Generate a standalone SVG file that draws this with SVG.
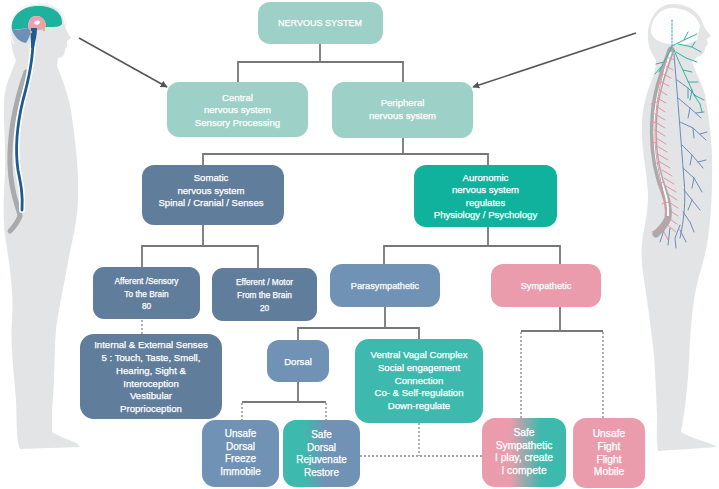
<svg xmlns="http://www.w3.org/2000/svg" width="719" height="489" viewBox="0 0 719 489">
<defs>
<style>
.t{font-family:"Liberation Sans",Arial,sans-serif;fill:#fff;stroke:#fff;stroke-width:0.25;text-anchor:middle;font-size:9.6px}
.c{fill:none;stroke:#777;stroke-width:1.8}
.d{fill:none;stroke:#888;stroke-width:1.3;stroke-dasharray:2 2}
.lt{fill:#9dd0c6}
.sl{fill:#617d9c}
.au{fill:#10b29e}
.pa{fill:#7092b5}
.sy{fill:#eb9cac}
.ve{fill:#3db9ad}
.sil{fill:#e3e4e5}
.pk{fill:none;stroke:#eb8fa3;stroke-width:1;stroke-linecap:round}
.bl{fill:none;stroke:#6b8cb8;stroke-width:1;stroke-linecap:round}
.tl{fill:none;stroke:#2fb3a3;stroke-width:1;stroke-linecap:round}
</style>
<linearGradient id="gSD" x1="0" x2="1" y1="0" y2="0">
<stop offset="0" stop-color="#3db9ad"/><stop offset="0.28" stop-color="#3db9ad"/><stop offset="0.55" stop-color="#7092b5"/><stop offset="1" stop-color="#7092b5"/>
</linearGradient>
<linearGradient id="gSS" x1="0" x2="1" y1="0" y2="0">
<stop offset="0" stop-color="#eb9cac"/><stop offset="0.33" stop-color="#eb9cac"/><stop offset="0.7" stop-color="#3db9ad"/><stop offset="1" stop-color="#3db9ad"/>
</linearGradient>
<marker id="ah" viewBox="0 0 10 10" refX="9" refY="5" markerWidth="7" markerHeight="7" orient="auto" markerUnits="userSpaceOnUse">
<path d="M0,0 L10,5 L0,10 Z" fill="#555"/>
</marker>
</defs>
<rect width="719" height="489" fill="#fff"/>

<!-- Left figure -->
<g id="left-figure">
<path class="sil" d="M38,4 C52,3 62,10 64,22 L66,30 L71,38 L67,41 L67,46 L65,50 C65,55 62,58 58,58 L57,66 C63,80 68,95 71,110 C75,140 79,165 78,200 C77,225 72,240 68,262 C63,290 58,312 56,330 C54,352 55,382 52,410 L52,432 C60,438 78,441 80,447 L20,449 C16,440 17,420 16,400 C14,372 10,345 12,320 C14,292 9,262 6,242 C2,222 4,192 5,170 C6,140 2,112 5,92 C8,77 14,68 16,60 C12,52 10,40 12,28 C15,12 26,4 38,4 Z"/>
<path d="M14,44 C8,34 9,14 24,7 C36,2 52,3 60,11 C64,15 66,20 66,26" fill="none" stroke="#f4f4f5" stroke-width="1.5"/>
<path d="M26,72 C16,100 9,130 10,165 C11,195 18,205 20,216 C17,224 13,228 10,231" fill="none" stroke="#a9aaac" stroke-width="5" stroke-linecap="round"/>
<path d="M33,40 C33,55 30,75 23,100 C17,125 15,150 18,170 C21,185 23,195 22,210" fill="none" stroke="#fff" stroke-width="6" stroke-linecap="round"/>
<path d="M33,40 C33,55 30,75 23,100 C17,125 15,150 18,170 C21,185 23,195 22,210" fill="none" stroke="#1d5b93" stroke-width="2.8" stroke-linecap="round"/>
<path d="M12,30 C10,16 22,6 38,6 C53,6 63,13 62,24 C60,27 55,27 50,27 L46,27 C46,20 42,16 36,16 C31,16 28,20 28,28 L20,29 C17,29 14,30 12,30 Z" fill="#1db29e"/>
<path d="M28,28 C28,20 31,16 37,16 C42,16 46,20 46,27 C44,30 40,30 36,30 C33,30 30,30 28,28 Z" fill="#ef9fb2"/>
<path d="M34,23 C35,20 39,20 40,22 C39,25 36,26 34,23 Z" fill="#fff"/>
<path d="M12,30 C16,30 22,29 28,28 L31,31 C30,36 28,40 26,43 C20,42 15,38 12,30 Z" fill="#6d8fb9"/>
<path d="M31,28 L37,28 C37,36 35,42 34,48 L31,48 C31,40 30,34 31,28 Z" fill="#1d5b93"/>
<circle cx="31" cy="32" r="1.2" fill="#f5b04a"/>
<circle cx="43" cy="25" r="1.2" fill="#f5b04a"/>
<circle cx="44" cy="30" r="1.2" fill="#f5b04a"/>
</g>

<!-- Right figure -->
<g id="right-figure">
<path class="sil" d="M672,4 C688,4 700,12 703,24 L706,30 L711,36 L707,39 L708,44 L705,48 C705,53 701,56 697,57 L692,62 C698,78 705,90 706,100 C710,125 713,150 712,175 C712,205 710,225 707,245 C703,265 697,280 694,300 C691,320 690,340 689,360 C688,385 685,410 681,432 C695,440 712,443 717,447 L658,451 C656,440 657,428 657,415 C656,390 655,370 654,355 C651,330 648,305 644,280 C641,260 641,250 643,235 C646,220 648,210 648,195 C647,170 641,150 642,125 C642,110 646,95 650,85 C654,75 656,68 656,60 C650,52 647,42 648,32 C650,15 660,4 672,4 Z"/>
<path d="M672,8 C686,8 697,15 700,26 L697,40 C690,44 680,46 668,44 C658,42 651,38 651,30 C652,17 661,8 672,8 Z" fill="#fff"/>
<path d="M671,50 C664,70 656,90 654,115 C652,140 654,160 660,180 C665,195 670,205 668,218 C665,226 660,230 656,234" fill="none" stroke="#a9aaac" stroke-width="7" stroke-linecap="round"/>
<path d="M671,52 C664,72 657,92 655,115 C653,140 655,160 661,180 C666,195 669,205 668,216" fill="none" stroke="#fff" stroke-width="2"/>
<path class="tl" d="M672,20 L672,46" stroke-dasharray="2 1.5"/>
<path class="tl" d="M672,46 L684,40 L697,34 M684,40 L688,32 M678,44 L692,47 L701,52 M692,47 L695,42 M672,46 C668,55 664,62 659,72 M664,62 L656,64 M661,67 L655,74 M674,50 C680,65 688,80 694,95 L700,104 M683,70 L692,72 M688,82 L698,82 M692,90 L690,100 M694,95 L704,100 M700,104 L702,112 M676,52 L686,58 L697,62"/>
<path class="bl" d="M674,54 C677,90 681,140 684,180 C686,200 684,220 680,238 M677,80 L688,88 L696,96 M688,88 L688,98 M678,98 L690,108 L701,118 M690,108 L688,118 M696,113 L704,112 M680,122 L693,128 L706,140 M693,128 L694,138 M700,134 L707,132 M682,145 L692,155 L703,168 M692,155 L690,165 M698,162 L706,160 M683,168 L694,178 L702,192 M694,178 L692,188 M684,190 L692,200 L700,210 M692,200 L688,210 M683,212 L690,222 L694,232 M680,225 L675,238 L676,248 M680,230 L686,242 M670,228 L668,245 M664,230 L660,242"/>
<path class="pk" d="M669,58 L675,60 M666,66 L673,70 M663,74 L671,78 M661,82 L669,86 M659,90 L667,95 M657,98 L666,103 M656,106 L665,112 M655,114 L665,120 M655,122 L665,128 M655,130 L665,136 M656,138 L666,144 M657,146 L667,152 M658,154 L668,160 M660,162 L670,168 M662,170 L672,176 M664,178 L674,184 M666,186 L676,192 M668,194 L677,200 M669,202 L678,208 M669,210 L678,216 M668,218 L677,224 M666,224 L676,232 M662,228 L668,240 M667,62 L662,64 M661,82 L656,84 M657,102 L651,104 M656,122 L650,124 M657,142 L651,144 M660,162 L654,164 M664,182 L658,184 M668,202 L662,204 M664,226 L652,232 M666,60 C660,85 654,110 655,140 C656,170 666,195 667,222"/>
</g>

<!-- Connectors -->
<g id="connectors">
<path class="c" d="M320,44 V62 M238,82 V62 H403 V82"/>
<path class="c" d="M403,138 V154 M203,165 V154 H488 V165"/>
<path class="c" d="M203,225 V246 M142,267 V246 H258 V268"/>
<path class="c" d="M488,227 V246 M384,264 V246 H560 V264"/>
<path class="c" d="M385,307 V328 M298,340 V328 H419 V339"/>
<path class="c" d="M298,382 V402 M242,402 H326"/>
<path class="c" d="M560,307 V331 M521,331 H603"/>
<path class="d" d="M142,320 V334"/>
<path class="d" d="M242,403 V420 M326,403 V420"/>
<path class="d" d="M521,332 V418 M603,332 V418"/>
<path class="d" d="M419,423 V456 M360,456 H482"/>
<line x1="79" y1="38" x2="167" y2="87" stroke="#555" stroke-width="1.5" marker-end="url(#ah)"/>
<line x1="636" y1="33" x2="473" y2="87" stroke="#555" stroke-width="1.5" marker-end="url(#ah)"/>
</g>

<!-- Nodes -->
<g id="n-nervous-system">
<rect class="lt" x="258" y="2" width="125" height="42" rx="12"/>
<text class="t" x="320" y="26" style="font-size:9px">NERVOUS SYSTEM</text>
</g>
<g id="n-central">
<rect class="lt" x="167" y="82" width="141" height="55" rx="12"/>
<text class="t" x="237.5" y="100.5">Central</text>
<text class="t" x="237.5" y="113">nervous system</text>
<text class="t" x="237.5" y="125.5">Sensory Processing</text>
</g>
<g id="n-peripheral">
<rect class="lt" x="332" y="82" width="141" height="56" rx="12"/>
<text class="t" x="402.5" y="106">Peripheral</text>
<text class="t" x="402.5" y="118.5">nervous system</text>
</g>
<g id="n-somatic">
<rect class="sl" x="142" y="165" width="142" height="60" rx="12"/>
<text class="t" x="211" y="181">Somatic</text>
<text class="t" x="211" y="194">nervous system</text>
<text class="t" x="211" y="206">Spinal / Cranial / Senses</text>
</g>
<g id="n-autonomic">
<rect class="au" x="414" y="165" width="143" height="62" rx="12"/>
<text class="t" x="485.5" y="180.5">Auronomic</text>
<text class="t" x="485.5" y="193">nervous system</text>
<text class="t" x="485.5" y="205.5">regulates</text>
<text class="t" x="485.5" y="218">Physiology / Psychology</text>
</g>
<g id="n-afferent">
<rect class="sl" x="93" y="267" width="107" height="52" rx="11"/>
<text class="t" x="146.5" y="284" style="font-size:8.3px">Afferent /Sensory</text>
<text class="t" x="146.5" y="297" style="font-size:8.3px">To the Brain</text>
<text class="t" x="146.5" y="309" style="font-size:8.3px">80</text>
</g>
<g id="n-efferent">
<rect class="sl" x="212" y="268" width="105" height="53" rx="11"/>
<text class="t" x="264.5" y="285" style="font-size:8.3px">Efferent / Motor</text>
<text class="t" x="264.5" y="298" style="font-size:8.3px">From the Brain</text>
<text class="t" x="264.5" y="311" style="font-size:8.3px">20</text>
</g>
<g id="n-parasympathetic">
<rect class="pa" x="330" y="264" width="110" height="43" rx="12"/>
<text class="t" x="385" y="289" style="font-size:9.2px">Parasympathetic</text>
</g>
<g id="n-sympathetic">
<rect class="sy" x="491" y="264" width="110" height="43" rx="12"/>
<text class="t" x="546" y="288.5" style="font-size:9.2px">Sympathetic</text>
</g>
<g id="n-senses">
<rect class="sl" x="80" y="334" width="142" height="85" rx="14"/>
<text class="t" x="151" y="348">Internal &amp; External Senses</text>
<text class="t" x="151" y="360.5">5 : Touch, Taste, Smell,</text>
<text class="t" x="151" y="373.5">Hearing, Sight &amp;</text>
<text class="t" x="151" y="386.5">Interoception</text>
<text class="t" x="151" y="398.5">Vestibular</text>
<text class="t" x="151" y="411.5">Proprioception</text>
</g>
<g id="n-dorsal">
<rect class="pa" x="267" y="340" width="62" height="42" rx="12"/>
<text class="t" x="298" y="364.5">Dorsal</text>
</g>
<g id="n-ventral">
<rect class="ve" x="355" y="339" width="128" height="84" rx="14"/>
<text class="t" x="419" y="357.5">Ventral Vagal Complex</text>
<text class="t" x="419" y="370.5">Social engagement</text>
<text class="t" x="419" y="383.5">Connection</text>
<text class="t" x="419" y="395.5">Co- &amp; Self-regulation</text>
<text class="t" x="419" y="408.5">Down-regulate</text>
</g>
<g id="n-unsafe-dorsal">
<rect class="pa" x="202" y="420" width="77" height="67" rx="13"/>
<text class="t" x="240.5" y="436.5" style="font-size:10px">Unsafe</text>
<text class="t" x="240.5" y="449.5" style="font-size:10px">Dorsal</text>
<text class="t" x="240.5" y="461.5" style="font-size:10px">Freeze</text>
<text class="t" x="240.5" y="474.5" style="font-size:10px">Immobile</text>
</g>
<g id="n-safe-dorsal">
<rect x="283" y="420" width="77" height="67" rx="13" fill="url(#gSD)"/>
<text class="t" x="321.5" y="437.5" style="font-size:10px">Safe</text>
<text class="t" x="321.5" y="450.5" style="font-size:10px">Dorsal</text>
<text class="t" x="321.5" y="462.5" style="font-size:10px">Rejuvenate</text>
<text class="t" x="321.5" y="475.5" style="font-size:10px">Restore</text>
</g>
<g id="n-safe-sympathetic">
<rect x="482" y="418" width="84" height="69" rx="13" fill="url(#gSS)"/>
<text class="t" x="524" y="435.5" style="font-size:10.3px">Safe</text>
<text class="t" x="524" y="448.5" style="font-size:10.3px">Sympathetic</text>
<text class="t" x="524" y="460.5" style="font-size:10.3px">I play, create</text>
<text class="t" x="524" y="473.5" style="font-size:10.3px">I compete</text>
</g>
<g id="n-unsafe-flight">
<rect class="sy" x="573" y="418" width="72" height="70" rx="13"/>
<text class="t" x="609" y="436.5" style="font-size:10.3px">Unsafe</text>
<text class="t" x="609" y="449.5" style="font-size:10.3px">Fight</text>
<text class="t" x="609" y="462.5" style="font-size:10.3px">Flight</text>
<text class="t" x="609" y="474.5" style="font-size:10.3px">Mobile</text>
</g>
</svg>
